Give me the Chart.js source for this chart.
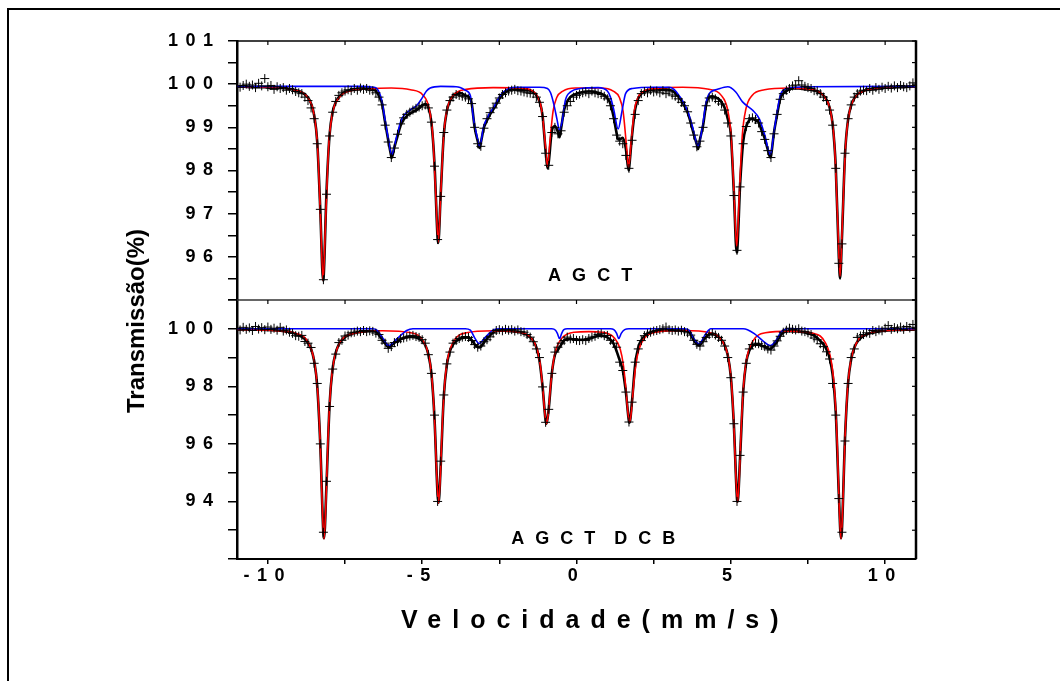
<!DOCTYPE html>
<html><head><meta charset="utf-8">
<script src="https://cdn.jsdelivr.net/npm/chart.js@4/dist/chart.umd.min.js"></script>
<style>
html,body{margin:0;padding:0;background:#fff;}
body{width:1060px;height:681px;overflow:hidden;position:relative;font-family:"Liberation Sans",Arial,sans-serif;}
#frame{position:absolute;left:7px;top:8px;width:1200px;height:800px;border-top:2px solid #000;border-left:2px solid #000;}
#c{position:absolute;left:0;top:0;}
#ytitle{position:absolute;left:124px;top:413px;transform-origin:0 0;transform:rotate(-90deg);font-weight:bold;font-size:24px;line-height:24px;white-space:nowrap;color:#000;}
#xtitle{position:absolute;left:401px;top:607px;font-weight:bold;font-size:25px;line-height:25px;letter-spacing:11px;white-space:nowrap;color:#000;}
</style></head>
<body>
<div id="frame"></div>
<canvas id="c" width="1060" height="681"></canvas>
<div id="ytitle">Transmissão(%)</div>
<div id="xtitle">Velocidade(mm/s)</div>
<script>
// ---- channel grid (velocity, mm/s) ----
const CHANNEL_START = -11.0;
const CHANNEL_STEP = 0.1;

// ---- upper spectrum: measured points, one per channel ----
const topData = [
  99.96, 99.93, 99.97, 100.00, 99.95, 99.98, 99.92, 100.02, 99.96, 100.13, // -11.0
  99.94, 99.97, 99.88, 99.94, 99.90, 99.92, 99.86, 99.90, 99.87, 99.83,    // -10.0
  99.80, 99.78, 99.70, 99.62, 99.45, 99.20, 98.62, 97.10, 95.47, 97.45,    // -9.0
  98.80, 99.35, 99.60, 99.74, 99.80, 99.84, 99.87, 99.85, 99.90, 99.86,    // -8.0
  99.91, 99.88, 99.90, 99.86, 99.85, 99.80, 99.70, 99.52, 99.05, 98.66,    // -7.0
  98.30, 98.52, 98.84, 99.08, 99.22, 99.30, 99.35, 99.40, 99.44, 99.47,    // -6.0
  99.50, 99.52, 99.45, 99.12, 98.10, 96.40, 97.40, 98.88, 99.40, 99.62,    // -5.0
  99.70, 99.76, 99.74, 99.72, 99.70, 99.66, 99.55, 99.00, 98.62, 98.56,    // -4.0
  98.98, 99.20, 99.34, 99.45, 99.56, 99.68, 99.76, 99.80, 99.84, 99.86,    // -3.0
  99.88, 99.85, 99.84, 99.82, 99.80, 99.79, 99.78, 99.70, 99.58, 99.25,    // -2.0
  98.40, 98.12, 98.88, 99.00, 98.85, 98.92, 99.35, 99.50, 99.60, 99.70,    // -1.0
  99.74, 99.77, 99.80, 99.82, 99.78, 99.84, 99.80, 99.78, 99.76, 99.72,    // 0.0
  99.66, 99.50, 99.20, 98.82, 98.68, 98.62, 98.35, 98.05, 98.70, 99.30,    // 1.0
  99.62, 99.78, 99.83, 99.80, 99.86, 99.82, 99.84, 99.80, 99.85, 99.78,    // 2.0
  99.82, 99.75, 99.72, 99.66, 99.58, 99.50, 99.36, 99.10, 98.82, 98.55,    // 3.0
  98.68, 99.00, 99.50, 99.68, 99.70, 99.66, 99.60, 99.54, 99.40, 99.10,    // 4.0
  98.80, 97.42, 96.15, 97.62, 98.62, 99.02, 99.20, 99.22, 99.18, 99.10,    // 5.0
  98.90, 98.72, 98.46, 98.30, 98.85, 99.30, 99.65, 99.78, 99.86, 99.90,    // 6.0
  99.96, 99.98, 100.08, 99.98, 99.95, 99.92, 99.90, 99.85, 99.84, 99.78,   // 7.0
  99.70, 99.62, 99.40, 99.05, 98.05, 95.85, 96.30, 98.40, 99.20, 99.52,    // 8.0
  99.70, 99.78, 99.84, 99.86, 99.85, 99.90, 99.86, 99.92, 99.88, 99.93,    // 9.0
  99.90, 99.95, 99.91, 99.96, 99.92, 99.97, 99.94, 99.92, 99.96, 100.03,   // 10.0
  99.97                                                                     // 11.0
];
// upper spectrum: total fitted curve at the channels
const topFit = [
  99.94, 99.94, 99.94, 99.94, 99.93, 99.93, 99.93, 99.93, 99.93, 99.93,
  99.92, 99.92, 99.92, 99.91, 99.91, 99.91, 99.90, 99.89, 99.88, 99.86,
  99.84, 99.81, 99.76, 99.69, 99.55, 99.28, 98.66, 97.06, 95.47, 97.50,
  98.83, 99.36, 99.58, 99.70, 99.77, 99.82, 99.85, 99.86, 99.88, 99.89,
  99.90, 99.90, 99.90, 99.90, 99.88, 99.84, 99.73, 99.55, 99.11, 98.70,
  98.32, 98.54, 98.79, 99.04, 99.18, 99.26, 99.32, 99.36, 99.39, 99.44,
  99.51, 99.54, 99.46, 99.11, 98.14, 96.43, 97.45, 98.83, 99.38, 99.61,
  99.73, 99.79, 99.80, 99.78, 99.74, 99.71, 99.57, 99.00, 98.68, 98.64,
  98.99, 99.16, 99.30, 99.41, 99.53, 99.66, 99.75, 99.82, 99.86, 99.88,
  99.89, 99.88, 99.87, 99.87, 99.86, 99.85, 99.82, 99.74, 99.60, 99.27,
  98.44, 98.19, 98.91, 99.03, 98.89, 98.97, 99.41, 99.60, 99.70, 99.75,
  99.78, 99.80, 99.82, 99.83, 99.83, 99.83, 99.82, 99.80, 99.78, 99.74,
  99.68, 99.54, 99.25, 98.86, 98.72, 98.76, 98.50, 98.03, 98.82, 99.42,
  99.67, 99.78, 99.83, 99.86, 99.87, 99.88, 99.88, 99.88, 99.88, 99.88,
  99.87, 99.85, 99.79, 99.71, 99.62, 99.49, 99.34, 99.11, 98.84, 98.60,
  98.72, 99.04, 99.52, 99.70, 99.72, 99.70, 99.66, 99.58, 99.45, 99.20,
  98.84, 97.47, 96.11, 97.66, 98.66, 99.02, 99.17, 99.20, 99.16, 99.12,
  98.92, 98.74, 98.48, 98.33, 98.89, 99.29, 99.66, 99.79, 99.84, 99.88,
  99.90, 99.90, 99.90, 99.89, 99.88, 99.88, 99.87, 99.86, 99.83, 99.79,
  99.74, 99.64, 99.46, 99.07, 98.08, 95.99, 96.43, 98.37, 99.18, 99.51,
  99.67, 99.76, 99.81, 99.84, 99.87, 99.88, 99.89, 99.90, 99.91, 99.91,
  99.92, 99.92, 99.92, 99.93, 99.93, 99.93, 99.93, 99.94, 99.94, 99.94,
  99.94
];
// upper spectrum: total fit at the line minima
const topFitMinX = [-8.21, -4.48, -0.94, 1.69, 5.19, 8.54, -5.99, -3.14, -0.55, 1.35, 3.94, 6.28];
const topFitMinY = [95.45, 96.32, 98.05, 98.00, 96.10, 95.50, 98.29, 98.52, 98.77, 98.72, 98.50, 98.30];
// upper spectrum: red sextet
const topRedX = [-11, -10, -9.5, -9.11, -8.71, -8.51, -8.39, -8.29, -8.21, -8.13,
  -8.03, -7.91, -7.71, -7.31, -6.8, -6.0, -5.38, -4.98, -4.78, -4.66,
  -4.56, -4.48, -4.40, -4.30, -4.18, -3.98, -3.58, -2.7, -1.84, -1.44,
  -1.24, -1.12, -1.02, -0.94, -0.86, -0.76, -0.64, -0.44, -0.04, 0.375,
  0.79, 1.19, 1.39, 1.51, 1.61, 1.69, 1.77, 1.87, 1.99, 2.19,
  2.59, 3.44, 4.29, 4.69, 4.89, 5.01, 5.11, 5.19, 5.27, 5.37,
  5.49, 5.69, 6.09, 6.87, 7.64, 8.04, 8.24, 8.36, 8.46, 8.54,
  8.62, 8.72, 8.84, 9.04, 9.44, 10.2, 11];
const topRedY = [99.95, 99.93, 99.91, 99.86, 99.69, 99.32, 98.55, 96.83, 95.45, 96.83,
  98.55, 99.31, 99.67, 99.85, 99.89, 99.91, 99.87, 99.75, 99.45, 98.84,
  97.45, 96.34, 97.45, 98.84, 99.45, 99.75, 99.88, 99.92, 99.91, 99.85,
  99.69, 99.37, 98.68, 98.10, 98.68, 99.37, 99.69, 99.84, 99.91, 99.91,
  99.91, 99.84, 99.69, 99.37, 98.65, 98.07, 98.65, 99.37, 99.69, 99.84,
  99.90, 99.93, 99.88, 99.74, 99.43, 98.80, 97.37, 96.23, 97.37, 98.80,
  99.43, 99.74, 99.87, 99.91, 99.87, 99.70, 99.34, 98.59, 96.90, 95.55,
  96.90, 98.59, 99.34, 99.70, 99.87, 99.93, 99.95];
// upper spectrum: blue sextet
const topBlueX = [-11, -7, -6.58, -6.47, -6.31, -6.20, -6.10, -5.99, -5.83, -5.66,
  -5.39, -5.17, -5.01, -4.86, -4.74, -4.4, -3.9, -3.77, -3.6, -3.44,
  -3.33, -3.22, -3.14, -3.01, -2.85, -2.68, -2.47, -2.25, -2.0, -1.2,
  -0.94, -0.84, -0.74, -0.63, -0.55, -0.46, -0.36, -0.19, 0.13, 0.7,
  1.0, 1.10, 1.21, 1.35, 1.48, 1.59, 1.81, 2.5, 3.0, 3.16,
  3.32, 3.59, 3.76, 3.94, 4.08, 4.19, 4.30, 4.57, 4.9, 5.16,
  5.38, 5.70, 5.92, 6.10, 6.28, 6.40, 6.51, 6.62, 6.84, 7.5, 11];
const topBlueY = [99.95, 99.95, 99.93, 99.90, 99.63, 99.16, 98.75, 98.37, 98.78, 99.20,
  99.40, 99.51, 99.67, 99.84, 99.91, 99.95, 99.94, 99.92, 99.86, 99.74,
  99.16, 98.78, 98.56, 99.01, 99.28, 99.47, 99.74, 99.88, 99.93, 99.93,
  99.90, 99.80, 99.55, 99.18, 98.93, 99.16, 99.63, 99.82, 99.90, 99.92,
  99.84, 99.70, 99.40, 98.96, 99.40, 99.78, 99.90, 99.93, 99.93, 99.88,
  99.74, 99.40, 99.01, 98.56, 99.01, 99.55, 99.78, 99.88, 99.94, 99.82,
  99.59, 99.40, 99.20, 98.82, 98.37, 98.90, 99.40, 99.78, 99.90, 99.94, 99.95];

// ---- lower spectrum ----
const bottomData = [
  100.02, 99.96, 100.05, 99.98, 100.03, 99.94, 100.08, 99.99, 100.04, 99.97, // -11.0
  100.06, 99.98, 100.02, 99.95, 100.05, 99.92, 99.96, 99.88, 99.84, 99.76,   // -10.0
  99.74, 99.77, 99.56, 99.50, 99.35, 98.80, 98.10, 96.00, 92.93, 94.70,      // -9.0
  97.30, 98.60, 99.12, 99.52, 99.60, 99.75, 99.78, 99.86, 99.88, 99.92,      // -8.0
  99.90, 99.94, 99.90, 99.93, 99.91, 99.85, 99.80, 99.60, 99.50, 99.32,      // -7.0
  99.38, 99.52, 99.55, 99.65, 99.68, 99.71, 99.75, 99.77, 99.73, 99.70,      // -6.0
  99.62, 99.50, 99.10, 98.45, 97.00, 94.00, 95.40, 97.70, 98.78, 99.19,      // -5.0
  99.50, 99.59, 99.66, 99.71, 99.73, 99.70, 99.59, 99.45, 99.36, 99.40,      // -4.0
  99.55, 99.62, 99.72, 99.85, 99.94, 99.97, 99.93, 99.98, 99.95, 99.97,      // -3.0
  99.92, 99.96, 99.90, 99.88, 99.80, 99.71, 99.55, 99.30, 99.00, 97.98,      // -2.0
  96.75, 97.20, 98.45, 99.19, 99.36, 99.50, 99.59, 99.71, 99.65, 99.66,      // -1.0
  99.60, 99.59, 99.62, 99.59, 99.66, 99.71, 99.74, 99.80, 99.83, 99.76,      // 0.0
  99.77, 99.60, 99.50, 99.36, 98.84, 98.55, 97.80, 96.76, 97.45, 98.84,      // 1.0
  99.30, 99.59, 99.76, 99.83, 99.88, 99.92, 99.94, 99.97, 100.00, 100.06,    // 2.0
  99.97, 99.94, 99.96, 99.92, 99.95, 99.90, 99.86, 99.78, 99.60, 99.46,      // 3.0
  99.40, 99.55, 99.70, 99.80, 99.84, 99.78, 99.70, 99.60, 99.40, 99.00,      // 4.0
  98.30, 96.70, 94.00, 95.60, 97.80, 98.80, 99.30, 99.45, 99.50, 99.48,      // 5.0
  99.42, 99.38, 99.30, 99.26, 99.40, 99.58, 99.74, 99.88, 99.95, 100.02,     // 6.0
  99.98, 99.96, 100.00, 99.92, 99.90, 99.86, 99.80, 99.68, 99.62, 99.48,     // 7.0
  99.38, 99.20, 98.95, 98.10, 97.00, 94.10, 92.93, 96.10, 98.10, 99.00,      // 8.0
  99.30, 99.70, 99.75, 99.80, 99.86, 99.84, 99.94, 99.90, 99.96, 99.93,      // 9.0
  100.02, 100.11, 99.98, 100.04, 100.00, 100.06, 99.98, 100.08, 100.03, 100.15, // 10.0
  100.05                                                                      // 11.0
];
const bottomFit = [
  99.98, 99.98, 99.98, 99.98, 99.98, 99.97, 99.97, 99.97, 99.97, 99.96,
  99.96, 99.95, 99.95, 99.94, 99.93, 99.92, 99.91, 99.89, 99.86, 99.82,
  99.78, 99.72, 99.64, 99.51, 99.30, 98.88, 98.00, 95.93, 92.86, 94.60,
  97.37, 98.63, 99.17, 99.46, 99.61, 99.71, 99.78, 99.82, 99.85, 99.87,
  99.89, 99.90, 99.91, 99.92, 99.92, 99.90, 99.78, 99.63, 99.49, 99.36,
  99.42, 99.51, 99.57, 99.63, 99.68, 99.71, 99.72, 99.72, 99.70, 99.66,
  99.58, 99.43, 99.11, 98.44, 96.86, 94.23, 95.23, 97.65, 98.75, 99.22,
  99.45, 99.57, 99.64, 99.68, 99.70, 99.69, 99.61, 99.46, 99.36, 99.38,
  99.52, 99.66, 99.77, 99.87, 99.92, 99.93, 99.93, 99.93, 99.92, 99.92,
  99.90, 99.89, 99.87, 99.83, 99.78, 99.70, 99.58, 99.35, 98.90, 98.00,
  96.80, 97.22, 98.44, 99.09, 99.27, 99.44, 99.60, 99.64, 99.64, 99.63,
  99.62, 99.62, 99.62, 99.63, 99.65, 99.68, 99.72, 99.75, 99.76, 99.74,
  99.70, 99.62, 99.48, 99.22, 98.90, 98.55, 97.80, 96.78, 97.50, 98.75,
  99.35, 99.60, 99.74, 99.82, 99.87, 99.90, 99.92, 99.93, 99.94, 99.94,
  99.94, 99.94, 99.94, 99.94, 99.94, 99.94, 99.92, 99.81, 99.60, 99.47,
  99.43, 99.58, 99.72, 99.80, 99.83, 99.79, 99.72, 99.61, 99.43, 99.08,
  98.34, 96.63, 94.10, 95.52, 97.81, 98.84, 99.24, 99.41, 99.45, 99.45,
  99.41, 99.37, 99.32, 99.31, 99.42, 99.56, 99.76, 99.86, 99.91, 99.92,
  99.91, 99.91, 99.90, 99.89, 99.87, 99.85, 99.81, 99.76, 99.68, 99.58,
  99.46, 99.28, 98.98, 98.40, 97.10, 94.24, 93.03, 96.20, 98.12, 98.94,
  99.34, 99.55, 99.67, 99.75, 99.80, 99.84, 99.87, 99.89, 99.91, 99.92,
  99.93, 99.94, 99.95, 99.95, 99.96, 99.96, 99.96, 99.97, 99.97, 99.97,
  99.98
];
const bottomFitMinX = [-8.18, -4.47, -0.97, 1.72, 5.22, 8.57, -6.09, -3.16, 3.97, 6.28];
const bottomFitMinY = [92.72, 93.96, 96.70, 96.74, 93.99, 92.72, 99.35, 99.35, 99.42, 99.30];
const bottomRedX = [-11, -10, -9.5, -9.08, -8.68, -8.48, -8.38, -8.30, -8.24, -8.18,
  -8.12, -8.06, -7.98, -7.88, -7.68, -7.28, -6.3, -5.37, -4.97, -4.77,
  -4.67, -4.59, -4.53, -4.47, -4.41, -4.35, -4.27, -4.17, -3.97, -3.57,
  -2.7, -1.87, -1.47, -1.27, -1.17, -1.09, -1.03, -0.97, -0.91, -0.85,
  -0.77, -0.67, -0.47, -0.07, 0.4, 0.82, 1.22, 1.42, 1.52, 1.60,
  1.66, 1.72, 1.78, 1.84, 1.92, 2.02, 2.22, 2.62, 3.47, 4.32,
  4.72, 4.92, 5.02, 5.10, 5.16, 5.22, 5.28, 5.34, 5.42, 5.52,
  5.72, 6.12, 6.9, 7.67, 8.07, 8.27, 8.37, 8.45, 8.51, 8.57,
  8.63, 8.69, 8.77, 8.87, 9.07, 9.47, 10.2, 11];
const bottomRedY = [99.98, 99.95, 99.91, 99.84, 99.50, 98.77, 97.72, 95.93, 93.90, 92.70,
  93.90, 95.93, 97.72, 98.77, 99.49, 99.82, 99.93, 99.86, 99.58, 98.98,
  98.10, 96.62, 94.94, 93.94, 94.94, 96.62, 98.10, 98.98, 99.58, 99.86,
  99.93, 99.89, 99.68, 99.27, 98.71, 97.89, 97.11, 96.70, 97.11, 97.89,
  98.71, 99.27, 99.68, 99.88, 99.90, 99.88, 99.69, 99.28, 98.73, 97.92,
  97.15, 96.75, 97.15, 97.92, 98.73, 99.28, 99.70, 99.89, 99.94, 99.86,
  99.58, 98.99, 98.12, 96.64, 94.97, 93.98, 94.97, 96.64, 98.12, 98.99,
  99.58, 99.86, 99.92, 99.84, 99.50, 98.77, 97.72, 95.93, 93.90, 92.70,
  93.90, 95.93, 97.72, 98.77, 99.50, 99.84, 99.95, 99.98];
const bottomBlueX = [-11, -6.6, -6.47, -6.26, -6.09, -5.82, -5.5, -5.3, -3.6, -3.44,
  -3.28, -3.16, -2.95, -2.68, -2.5, -0.8, -0.68, -0.62, -0.55, -0.48,
  -0.41, -0.3, 1.1, 1.21, 1.30, 1.37, 1.45, 1.56, 1.7, 3.5,
  3.65, 3.81, 3.97, 4.19, 4.35, 5.4, 5.54, 5.76, 6.03, 6.28,
  6.46, 6.62, 6.84, 11];
const bottomBlueY = [100, 100, 99.95, 99.65, 99.42, 99.65, 99.94, 100, 100, 99.95,
  99.65, 99.49, 99.71, 99.97, 100, 100, 99.95, 99.84, 99.66, 99.84,
  99.97, 100, 100, 99.97, 99.84, 99.66, 99.84, 99.97, 100, 100,
  99.95, 99.65, 99.48, 99.83, 100, 100, 99.97, 99.83, 99.59, 99.42,
  99.59, 99.88, 100, 100];

// ---- axis ticks and labels ----
const topTickLabels = [96, 97, 98, 99, 100, 101];
const bottomTickLabels = [94, 96, 98, 100];
const xTickLabels = [-10, -5, 0, 5, 10];
const topLetters = 'A G C T';
const bottomLetters = 'A G C T  D C B';

// ---- helpers ----
function channelGrid(n) {
  const v = [];
  for (let i = 0; i < n; i++) v.push(Math.round((CHANNEL_START + i * CHANNEL_STEP) * 100) / 100);
  return v;
}
function zip(xs, ys) { return xs.map((x, i) => ({ x: x, y: ys[i] })); }
function fitCurve(ys, mx, my) {
  return zip(channelGrid(ys.length), ys).concat(zip(mx, my)).sort((a, b) => a.x - b.x);
}

const FONT = '"Liberation Sans", Arial, Helvetica, sans-serif';
Chart.defaults.font.family = FONT;
Chart.defaults.color = '#000';
const tickFont = { family: FONT, size: 18, weight: 'bold' };

function crossSet(data, axis) {
  return { label: 'dados', data: data, yAxisID: axis, showLine: false, pointStyle: 'cross',
    pointRadius: 4.5, pointBorderWidth: 1, pointBorderColor: '#000', pointBackgroundColor: '#000',
    borderColor: '#000', order: 0 };
}
function lineSet(data, axis, color, width, order) {
  return { label: 'curva', data: data, yAxisID: axis, showLine: true, pointRadius: 0,
    borderColor: color, borderWidth: width, cubicInterpolationMode: 'monotone', fill: false, order: order };
}

const frameGrid = { drawOnChartArea: false, drawTicks: true, color: '#000', lineWidth: 1.5 };

const framePlugin = {
  id: 'framePlugin',
  beforeDraw(chart) { chart.ctx.letterSpacing = '7.5px'; },
  beforeDatasetsDraw(chart) { chart.ctx.letterSpacing = '0px'; },
  afterDraw(chart) {
    const ctx = chart.ctx, a = chart.chartArea, sx = chart.scales.x, yT = chart.scales.yT, yB = chart.scales.yB;
    const seg = (x1, y1, x2, y2) => { ctx.beginPath(); ctx.moveTo(x1, y1); ctx.lineTo(x2, y2); ctx.stroke(); };
    ctx.save();
    ctx.letterSpacing = '0px';
    ctx.strokeStyle = '#000';
    ctx.lineWidth = 1.5; seg(a.left, a.top, a.right, a.top);
    ctx.lineWidth = 2.5; seg(a.right, a.top - 0.75, a.right, a.bottom);
    const yd = yB.top;
    ctx.strokeStyle = '#333'; ctx.lineWidth = 1.5; seg(a.left, yd, a.right, yd);
    ctx.strokeStyle = '#000'; ctx.lineWidth = 1.2;
    sx.ticks.forEach(t => {
      const px = sx.getPixelForValue(t.value);
      seg(px, a.top, px, a.top + 4);
      seg(px, yd, px, yd + 4);
    });
    [yT, yB].forEach(s => s.ticks.forEach(t => {
      const py = s.getPixelForValue(t.value);
      seg(a.right, py, a.right - 4, py);
    }));
    ctx.fillStyle = '#000';
    ctx.font = 'bold 18px ' + FONT;
    ctx.letterSpacing = '3px';
    ctx.textAlign = 'center';
    ctx.textBaseline = 'middle';
    ctx.fillText(topLetters, sx.getPixelForValue(0.49), yT.getPixelForValue(95.545));
    ctx.fillText(bottomLetters, sx.getPixelForValue(0.59), yB.getPixelForValue(92.69));
    ctx.restore();
  }
};

new Chart(document.getElementById('c'), {
  type: 'scatter',
  data: {
    datasets: [
      crossSet(zip(channelGrid(topData.length), topData), 'yT'),
      lineSet(zip(topBlueX, topBlueY), 'yT', '#0000ff', 1.6, 1),
      lineSet(zip(topRedX, topRedY), 'yT', '#ff0000', 1.6, 2),
      lineSet(fitCurve(topFit, topFitMinX, topFitMinY), 'yT', '#000000', 2.6, 3),
      crossSet(zip(channelGrid(bottomData.length), bottomData), 'yB'),
      lineSet(zip(bottomBlueX, bottomBlueY), 'yB', '#0000ff', 1.6, 1),
      lineSet(zip(bottomRedX, bottomRedY), 'yB', '#ff0000', 1.6, 2),
      lineSet(fitCurve(bottomFit, bottomFitMinX, bottomFitMinY), 'yB', '#000000', 2.6, 3)
    ]
  },
  options: {
    responsive: false,
    animation: false,
    devicePixelRatio: 1,
    events: [],
    layout: { padding: { top: 41, right: 144, bottom: 0, left: 0 } },
    plugins: { legend: { display: false }, tooltip: { enabled: false } },
    scales: {
      x: {
        type: 'linear', position: 'bottom', min: -11, max: 11,
        ticks: {
          stepSize: 2.5, includeBounds: false, autoSkip: false, maxRotation: 0, minRotation: 0, padding: 1,
          font: tickFont, color: '#000',
          callback(v) { return xTickLabels.includes(v) ? String(v) : ''; }
        },
        grid: Object.assign({}, frameGrid, { tickLength: 5 }),
        border: { display: true, color: '#000', width: 2 },
        afterFit(s) { s.height = 122; }
      },
      yB: {
        type: 'linear', position: 'left', stack: 'panels', stackWeight: 1, min: 92, max: 101,
        ticks: { stepSize: 1, autoSkip: false, padding: 7.5, font: tickFont, color: '#000',
          callback(v) { return bottomTickLabels.includes(v) ? String(v) : ''; } },
        grid: Object.assign({}, frameGrid, { tickLength: 9 }),
        border: { display: true, color: '#000', width: 2.5 },
        afterFit(s) { s.width = 237; }
      },
      yT: {
        type: 'linear', position: 'left', stack: 'panels', stackWeight: 1, min: 95, max: 101,
        ticks: { stepSize: 0.5, autoSkip: false, padding: 7.5, font: tickFont, color: '#000',
          callback(v) { return topTickLabels.includes(v) ? String(v) : ''; } },
        grid: Object.assign({}, frameGrid, { tickLength: 9 }),
        border: { display: true, color: '#000', width: 2.5 },
        afterFit(s) { s.width = 237; }
      }
    }
  },
  plugins: [framePlugin]
});
</script>
</body></html>
